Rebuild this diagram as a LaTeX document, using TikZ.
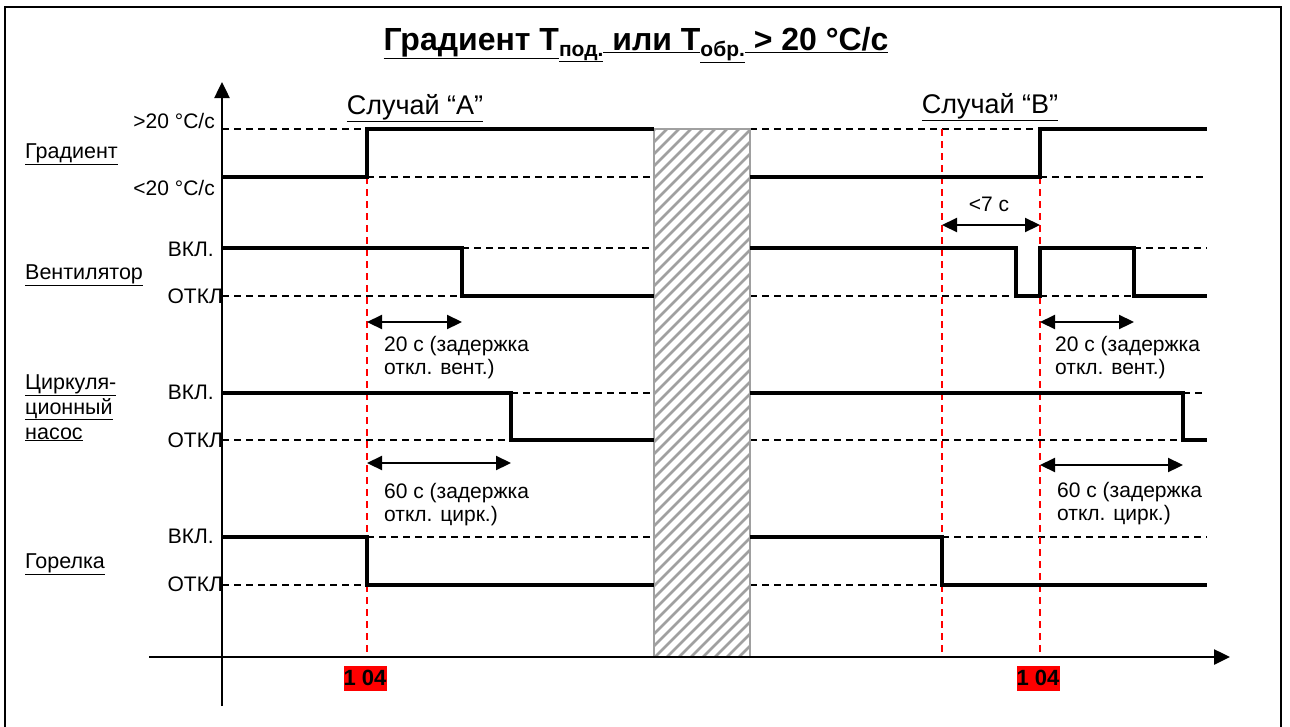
\documentclass[tikz,border=0pt]{standalone}
\usepackage{fontspec}
\setmainfont{Liberation Sans}
\usetikzlibrary{arrows.meta}
\definecolor{hatchgray}{RGB}{160,160,160}
\begin{document}
\begin{tikzpicture}[x=1pt,y=-1pt,
  sig/.style={line width=3.2pt, line join=miter},
  refl/.style={line width=1.4pt, dash pattern=on 7pt off 5pt},
  redl/.style={red, line width=1.8pt, dash pattern=on 7pt off 5pt},
  axisl/.style={line width=2.5pt},
  dimarrow/.style={line width=2.2pt, {Triangle[length=15pt,width=14pt]}-{Triangle[length=15pt,width=14pt]}},
  lvl/.style={font=\fontsize{21}{24}\selectfont, anchor=base east, inner sep=0pt},
  side/.style={font=\fontsize{21.5}{24}\selectfont, anchor=base west, inner sep=0pt},
  note/.style={font=\fontsize{21}{24}\selectfont, anchor=base west, inner sep=0pt},
  casel/.style={font=\fontsize{27}{30}\selectfont, anchor=base, inner sep=0pt},
  tag/.style={fill=red, font=\bfseries\fontsize{22}{24}\selectfont, inner sep=0pt, minimum width=43pt, minimum height=25pt},
]
\useasboundingbox (0,0) rectangle (1290,726);
% frame
\draw[line width=2.5pt] (5,740) -- (5,7) -- (1281,7) -- (1281,740);

% title
\node[anchor=base, inner sep=0pt, font=\bfseries\fontsize{32}{36}\selectfont] (title) at (636,50)
  {\underline{Градиент T}\raisebox{-6pt}{\fontsize{21}{23}\selectfont\underline{под.}}\underline{ или T}\raisebox{-6pt}{\fontsize{21}{23}\selectfont\underline{обр.}}\underline{ > 20 °C/c}};

% reference dashed lines, case A
\draw[refl] (222,129) -- (367,129);
\draw[refl] (367,177) -- (654,177);
\draw[refl] (462,248) -- (654,248);
\draw[refl] (222,296) -- (462,296);
\draw[refl] (511,393) -- (654,393);
\draw[refl] (222,440) -- (511,440);
\draw[refl] (367,537) -- (654,537);
\draw[refl] (222,585) -- (367,585);
% reference dashed lines, case B
\draw[refl] (750,129) -- (1040,129);
\draw[refl] (1040,177) -- (1207,177);
\draw[refl] (1134,248) -- (1207,248);
\draw[refl] (750,296) -- (1016,296);
\draw[refl] (1040,296) -- (1134,296);
\draw[refl] (1183,393) -- (1207,393);
\draw[refl] (750,440) -- (1183,440);
\draw[refl] (942,537) -- (1207,537);
\draw[refl] (750,585) -- (942,585);

% red event lines
\draw[redl] (367,177) -- (367,657);
\draw[redl] (942,129) -- (942,657);
\draw[redl] (1040,177) -- (1040,657);

% hatched gap
\begin{scope}
  \clip (654,129) rectangle (750,657);
  \foreach \x in {100,112,...,760}
    \draw[hatchgray, line width=2.6pt] (\x,660) -- (\x+540,120);
\end{scope}
\draw[hatchgray, line width=1.5pt] (654,129) rectangle (750,657);

% signals case A
\draw[sig] (222,177) -- (367,177) -- (367,129) -- (654,129);
\draw[sig] (222,248) -- (462,248) -- (462,296) -- (654,296);
\draw[sig] (222,393) -- (511,393) -- (511,440) -- (654,440);
\draw[sig] (222,537) -- (367,537) -- (367,585) -- (654,585);
% signals case B
\draw[sig] (750,177) -- (1040,177) -- (1040,129) -- (1207,129);
\draw[sig] (750,248) -- (1016,248) -- (1016,296) -- (1040,296) -- (1040,248) -- (1134,248) -- (1134,296) -- (1207,296);
\draw[sig] (750,393) -- (1183,393) -- (1183,440) -- (1207,440);
\draw[sig] (750,537) -- (942,537) -- (942,585) -- (1207,585);

% axes
\coordinate (yb) at (222,706);
\coordinate (yt) at (222,82);
\coordinate (xl) at (149,657);
\coordinate (xr) at (1230,657);
\draw[axisl, -{Triangle[length=16pt,width=15pt]}] (yb) -- (yt);
\draw[axisl, -{Triangle[length=16pt,width=15pt]}] (xl) -- (xr);

% dimension arrows
\coordinate (a1) at (367,322); \coordinate (a2) at (462,322);
\coordinate (a3) at (367,463); \coordinate (a4) at (511,463);
\coordinate (b0) at (942,225); \coordinate (b1) at (1040,225);
\coordinate (b2) at (1040,322); \coordinate (b3) at (1134,322);
\coordinate (b4) at (1040,465); \coordinate (b5) at (1183,465);
\draw[dimarrow] (a1) -- (a2);
\draw[dimarrow] (a3) -- (a4);
\draw[dimarrow] (b0) -- (b1);
\draw[dimarrow] (b2) -- (b3);
\draw[dimarrow] (b4) -- (b5);

% delay texts
\node[note] (ta1) at (384,351) {20 с (задержка};
\node[note] (ta2) at (384,374) {откл. вент.)};
\node[note] (ta3) at (384,498) {60 с (задержка};
\node[note] (ta4) at (384,521) {откл. цирк.)};
\node[note] (tb1) at (1055,351) {20 с (задержка};
\node[note] (tb2) at (1055,374) {откл. вент.)};
\node[note] (tb3) at (1057,497) {60 с (задержка};
\node[note] (tb4) at (1057,520) {откл. цирк.)};
\node[anchor=base, inner sep=0pt, font=\fontsize{21}{24}\selectfont] (t7) at (989,211) {<7 с};

% case labels
\node[casel] (caseA) at (415,114) {\underline{Случай “A”}};
\node[casel] (caseB) at (990,113) {\underline{Случай “B”}};

% side labels
\node[side] (sg) at (25,158) {\underline{Градиент}};
\node[side] (sv) at (25,279) {\underline{Вентилятор}};
\node[side] (sc1) at (25,389) {\underline{Циркуля-}};
\node[side] (sc2) at (25,414) {\underline{ционный}};
\node[side] (sc3) at (25,439) {\underline{насос}};
\node[side] (sb) at (25,568) {\underline{Горелка}};

% level labels
\node[lvl] (l1) at (215,128) {>20 °С/с};
\node[lvl] (l2) at (215,195) {<20 °С/с};
\node[lvl] (l3) at (214,256) {ВКЛ.};
\node[lvl] (l4) at (223,303) {ОТКЛ};
\node[lvl] (l5) at (214,399) {ВКЛ.};
\node[lvl] (l6) at (223,447) {ОТКЛ};
\node[lvl] (l7) at (214,543) {ВКЛ.};
\node[lvl] (l8) at (223,591) {ОТКЛ};

% tags
\node[tag] (tagA) at (365,678) {1 04};
\node[tag] (tagB) at (1038,678) {1 04};
\end{tikzpicture}
\end{document}
